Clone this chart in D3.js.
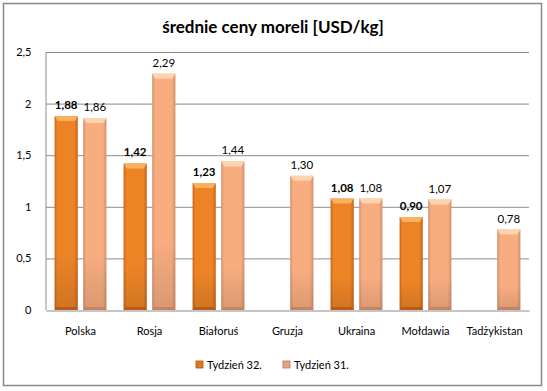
<!DOCTYPE html>
<html><head><meta charset="utf-8">
<script src="https://cdn.jsdelivr.net/npm/d3@7"></script>
<style>body{margin:0;background:#fff;} svg{display:block;font-family:Lato,"Open Sans",sans-serif;}</style>
</head><body>
<svg id="c" width="547" height="391"></svg>
<script>
const categories = ["Polska","Rosja","Białoruś","Gruzja","Ukraina","Mołdawia","Tadżykistan"];
const week32 = [1.88,1.42,1.23,null,1.08,0.90,null];
const week31 = [1.86,2.29,1.44,1.30,1.08,1.07,0.78];
const seriesNames = ["Tydzień 32.","Tydzień 31."];
const yTicks = [0,0.5,1,1.5,2,2.5];
const title = "średnie ceny moreli [USD/kg]";

const svg = d3.select("#c");
const fmt = v => d3.format(".2f")(v).replace(".", ",");
const fmtTick = v => String(v).replace(".", ",");

const pLeft = 46, pRight = 529, pTop = 52, pBottom = 310;
const x = d3.scaleBand().domain(categories).range([pLeft, pRight]).paddingInner(0).paddingOuter(0);
const x1 = d3.scaleBand().domain([0,1]).range([0, x.bandwidth()]).paddingInner(0.19).paddingOuter(0.3);
const y = d3.scaleLinear().domain([0, 2.5]).range([pBottom, pTop]);

const defs = svg.append("defs");
function grad(id, edge, mid) {
  const g = defs.append("linearGradient").attr("id", id).attr("x1","0").attr("x2","1").attr("y1","0").attr("y2","0");
  g.append("stop").attr("offset","0").attr("stop-color", edge);
  g.append("stop").attr("offset","0.12").attr("stop-color", mid);
  g.append("stop").attr("offset","0.85").attr("stop-color", mid);
  g.append("stop").attr("offset","1").attr("stop-color", edge);
}
grad("g0", "#c8641a", "#ec8426");
grad("g1", "#d08f6c", "#f8ad80");
const vg0 = defs.append("linearGradient").attr("id","v0").attr("x1","0").attr("x2","0").attr("y1","0").attr("y2","1");
vg0.append("stop").attr("offset","0").attr("stop-color","#fff").attr("stop-opacity",0.0);
vg0.append("stop").attr("offset","0.7").attr("stop-color","#000").attr("stop-opacity",0.0);
vg0.append("stop").attr("offset","1").attr("stop-color","#000").attr("stop-opacity",0.12);

// border
svg.append("rect").attr("x",3.5).attr("y",3.5).attr("width",538).attr("height",382)
  .attr("fill","#fff").attr("stroke","#888").attr("stroke-width",1.5);

// title
svg.append("text").attr("x",273).attr("y",33).attr("text-anchor","middle")
  .attr("font-size",17).attr("font-weight","bold").attr("fill","#000").text(title);

// gridlines
svg.append("g").selectAll("line").data(yTicks.filter(t=>t>0)).join("line")
  .attr("x1",pLeft).attr("x2",pRight).attr("y1",d=>y(d)+0.5).attr("y2",d=>y(d)+0.5)
  .attr("stroke","#8c8c8c").attr("stroke-width",1);

// y axis
const yAxis = d3.axisLeft(y).tickValues(yTicks).tickFormat(fmtTick).tickSize(0).tickPadding(14);
const ya = svg.append("g").attr("transform",`translate(${pLeft-0.5},0)`).call(yAxis);
ya.select(".domain").attr("stroke","#8c8c8c");
ya.selectAll("text").attr("font-size",11).attr("fill","#000").attr("font-family","Lato,sans-serif");

// x axis
const xAxis = d3.axisBottom(x).tickSize(0).tickPadding(17);
const xa = svg.append("g").attr("transform",`translate(0,${pBottom+0.5})`).call(xAxis);
xa.select(".domain").attr("stroke","#8c8c8c");
xa.selectAll("text").attr("font-size",11).attr("fill","#000").attr("font-family","Lato,sans-serif");

const series = [week32, week31];
series.forEach((vals, si) => {
  const data = categories.map((c,i)=>({c, v: vals[i]})).filter(d=>d.v!=null);
  const g = svg.append("g");
  const bw = x1.bandwidth();
  const bars = g.selectAll("g").data(data).join("g")
    .attr("transform", d=>`translate(${x(d.c)+x1(si)},0)`);
  bars.append("rect").attr("x",0).attr("y",d=>y(d.v)).attr("width",bw).attr("height",d=>y(0)-y(d.v))
    .attr("fill",`url(#g${si})`);
  bars.append("rect").attr("x",0).attr("y",d=>y(d.v)).attr("width",bw).attr("height",d=>y(0)-y(d.v))
    .attr("fill","url(#v0)");
  bars.append("path").attr("d", d=>{
    const t = y(d.v);
    return `M0,${t} L${bw},${t} L${bw-3},${t+5} L3,${t+5} Z`;
  }).attr("fill", si===0 ? "#fbb060" : "#fdd3b0");
  bars.append("path").attr("d", d=>{
    const b = y(0);
    return `M0,${b} L${bw},${b} L${bw-2},${b-3} L2,${b-3} Z`;
  }).attr("fill", si===0 ? "#b85a18" : "#c48462");
  bars.append("text").attr("x",bw/2).attr("y",d=>y(d.v)-7).attr("text-anchor","middle")
    .attr("font-size",11.5).attr("font-weight", si===0?"bold":"normal").attr("fill","#000")
    .text(d=>fmt(d.v));
});

// legend
const legend = svg.append("g");
const litems = [{n:seriesNames[0], x:196},{n:seriesNames[1], x:283}];
litems.forEach((it,i)=>{
  legend.append("rect").attr("x",it.x).attr("y",361).attr("width",7).attr("height",7)
    .attr("fill", i===0?"#e07a22":"#e8a27c").attr("stroke", i===0?"#a85a18":"#b07a5c").attr("stroke-width",0.8);
  legend.append("text").attr("x",it.x+11).attr("y",368.5).attr("font-size",11).attr("fill","#000").text(it.n);
});
</script>
</body></html>
